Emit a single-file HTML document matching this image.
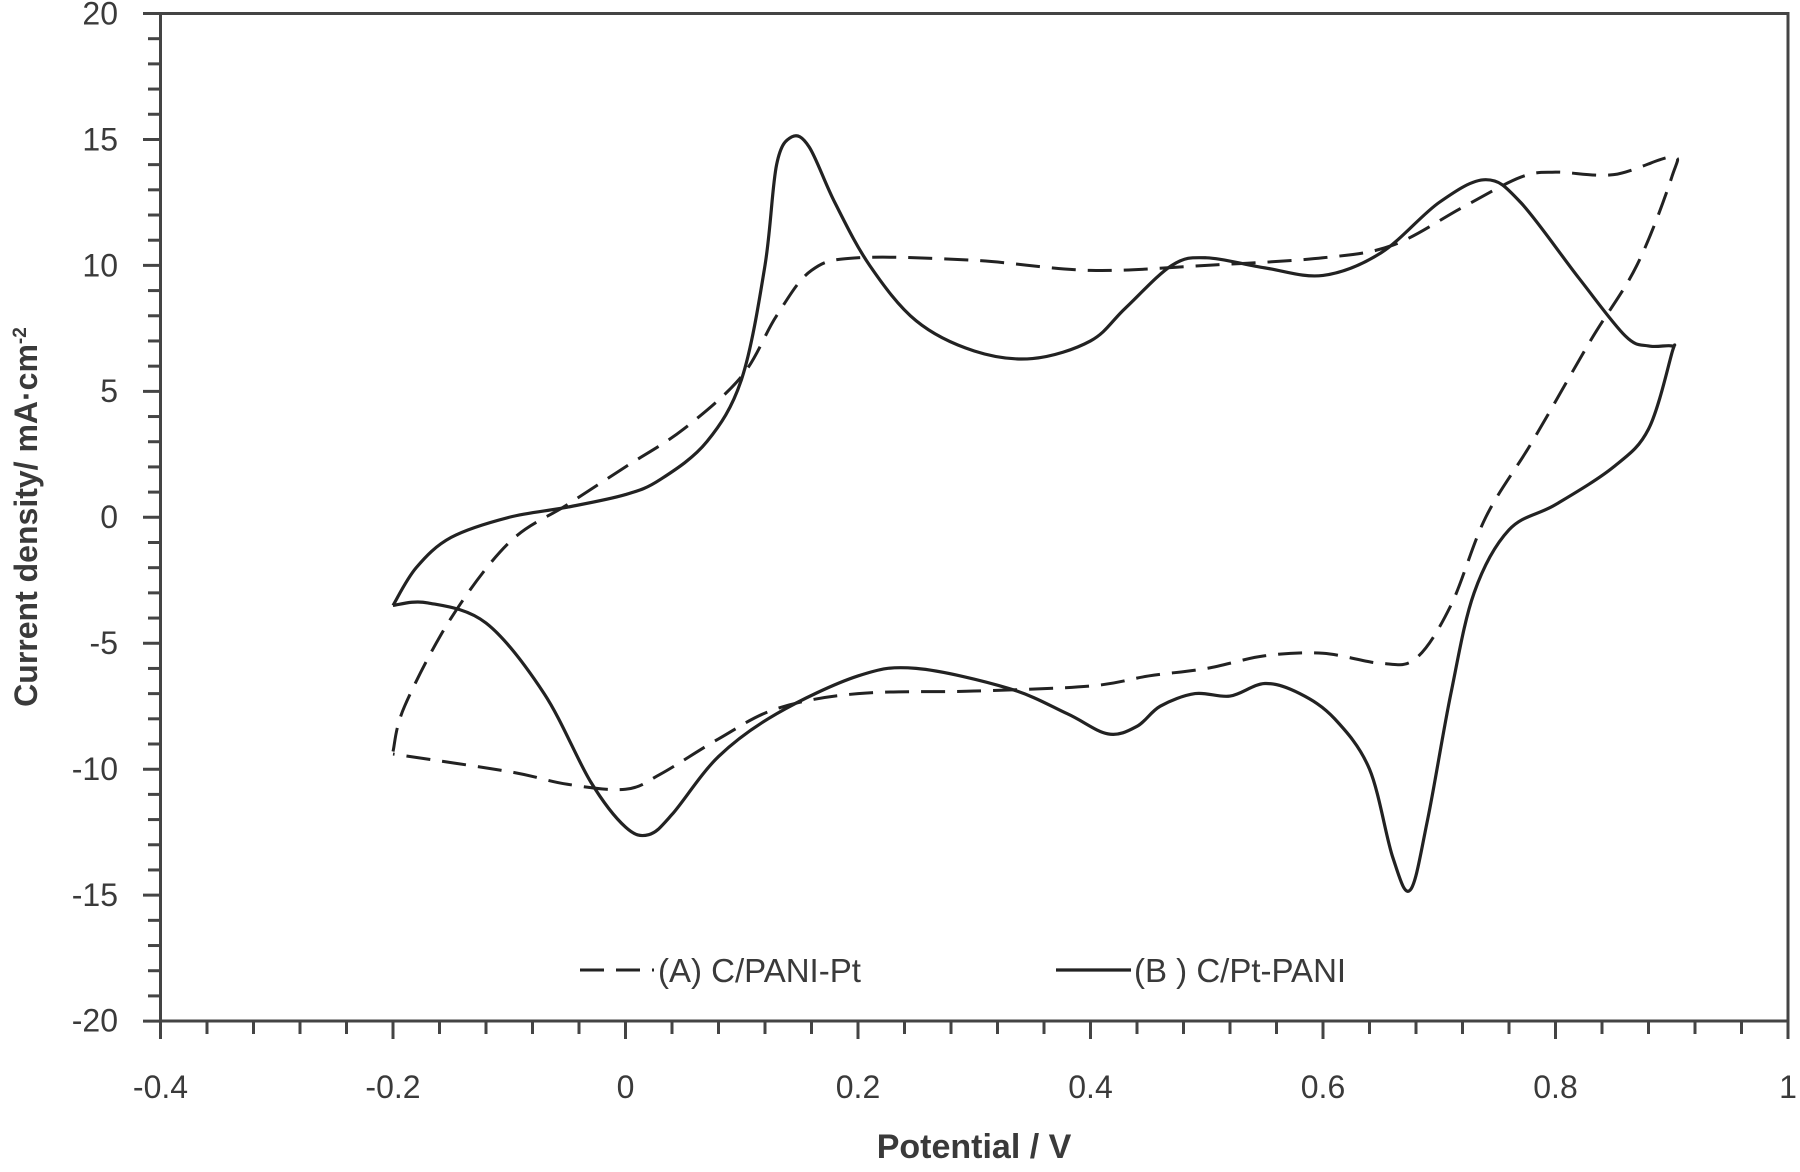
<!DOCTYPE html>
<html><head><meta charset="utf-8"><style>
html,body{margin:0;padding:0;background:#fff}
svg text{font-family:"Liberation Sans",sans-serif;fill:#3a3a3a}
</style></head><body>
<svg id="s" width="1800" height="1167" viewBox="0 0 1800 1167" xmlns="http://www.w3.org/2000/svg">
<g id="ax" stroke="#444" stroke-width="3" fill="none"></g>
<g id="lab" font-size="32"></g>
<path id="pa" fill="none" stroke="#222" stroke-width="3" stroke-dasharray="24,12"/>
<path id="pb" fill="none" stroke="#222" stroke-width="3.2"/>
<line x1="580" y1="970" x2="654" y2="970" stroke="#222" stroke-width="3" stroke-dasharray="24,12"/>
<text x="658" y="982" font-size="33">(A) C/PANI-Pt</text>
<line x1="1056" y1="970" x2="1131" y2="970" stroke="#222" stroke-width="3.2"/>
<text x="1134" y="982" font-size="33">(B ) C/Pt-PANI</text>
<text x="974" y="1158" font-size="34" font-weight="bold" text-anchor="middle">Potential  / V</text>
<text transform="translate(37,517) rotate(-90)" font-size="32" font-weight="bold" text-anchor="middle">Current density/ mA·cm<tspan font-size="19" dy="-11">-2</tspan></text>
</svg>
<script>
const X=v=>160.5+(v+0.4)*1162.5, Y=j=>517.25-j*25.19;
let ax='',lab='';
ax+=`<rect x="160.5" y="13.5" width="1627.5" height="1007.5"/>`;
for(let i=0;i<=35;i++){let x=160.5+i*46.5;ax+=`<line x1="${x}" y1="1021" x2="${x}" y2="${i%5?1034:1039}"/>`;}
for(let i=0;i<=40;i++){let y=13.5+i*25.19;ax+=`<line x1="160.5" y1="${y}" x2="${i%5?148:143}" y2="${y}"/>`;}
for(let k=0;k<=8;k++){let v=20-5*k;lab+=`<text x="118" y="${13.5+k*125.9+11}" text-anchor="end">${v}</text>`;}
const xl=['-0.4','-0.2','0','0.2','0.4','0.6','0.8','1'];
xl.forEach((t,i)=>{lab+=`<text x="${160.5+i*232.5}" y="1098" text-anchor="middle">${t}</text>`;});
document.getElementById('ax').innerHTML=ax;document.getElementById('lab').innerHTML=lab;
function cr(p){p=p.map(q=>[X(q[0]),Y(q[1])]);let n=p.length,d=`M${p[0][0]},${p[0][1]}`;
for(let i=0;i<n-1;i++){let p0=p[Math.max(0,i-1)],p1=p[i],p2=p[i+1],p3=p[Math.min(n-1,i+2)];
d+=`C${p1[0]+(p2[0]-p0[0])/6},${p1[1]+(p2[1]-p0[1])/6} ${p2[0]-(p3[0]-p1[0])/6},${p2[1]-(p3[1]-p1[1])/6} ${p2[0]},${p2[1]}`;}return d;}
const A=[[-0.2,-9.3],[-0.19,-7.5],[-0.15,-4],[-0.1,-1.0],[-0.05,0.5],[0,2],[0.05,3.5],[0.1,5.6],[0.13,8],[0.16,9.8],[0.2,10.3],[0.3,10.2],[0.4,9.8],[0.5,10],[0.6,10.3],[0.66,10.8],[0.72,12.3],[0.77,13.5],[0.8,13.7],[0.85,13.6],[0.9,14.3],[0.9,13.5],[0.87,10],[0.83,7],[0.78,3],[0.74,0],[0.71,-3.5],[0.68,-5.6],[0.65,-5.8],[0.6,-5.4],[0.55,-5.5],[0.5,-6],[0.45,-6.3],[0.4,-6.7],[0.3,-6.9],[0.2,-7.0],[0.13,-7.6],[0.08,-8.8],[0.03,-10.2],[0,-10.8],[-0.05,-10.6],[-0.1,-10.1],[-0.2,-9.4]];
const B=[[-0.2,-3.5],[-0.18,-2],[-0.15,-0.8],[-0.1,0],[-0.05,0.4],[0,0.9],[0.03,1.5],[0.07,3],[0.1,5.5],[0.12,10],[0.13,14],[0.143,15.1],[0.158,14.7],[0.18,12.5],[0.21,10],[0.25,7.8],[0.3,6.6],[0.35,6.3],[0.4,7],[0.43,8.3],[0.47,10],[0.5,10.3],[0.55,9.9],[0.6,9.6],[0.65,10.5],[0.7,12.5],[0.74,13.4],[0.77,12.5],[0.82,9.5],[0.86,7.2],[0.88,6.8],[0.9,6.8],[0.9,6.5],[0.88,3.5],[0.85,2],[0.8,0.5],[0.76,-0.5],[0.73,-3],[0.71,-7],[0.69,-12],[0.675,-14.8],[0.66,-13.5],[0.64,-10],[0.61,-8],[0.58,-7],[0.55,-6.6],[0.52,-7.1],[0.49,-7],[0.46,-7.5],[0.44,-8.3],[0.415,-8.6],[0.38,-7.8],[0.33,-6.8],[0.25,-6],[0.2,-6.3],[0.13,-7.8],[0.08,-9.5],[0.04,-11.8],[0.02,-12.6],[0,-12.3],[-0.03,-10.5],[-0.07,-7],[-0.12,-4.2],[-0.17,-3.4],[-0.2,-3.5]];
document.getElementById('pa').setAttribute('d',cr(A));
document.getElementById('pb').setAttribute('d',cr(B));
</script>
</body></html>
